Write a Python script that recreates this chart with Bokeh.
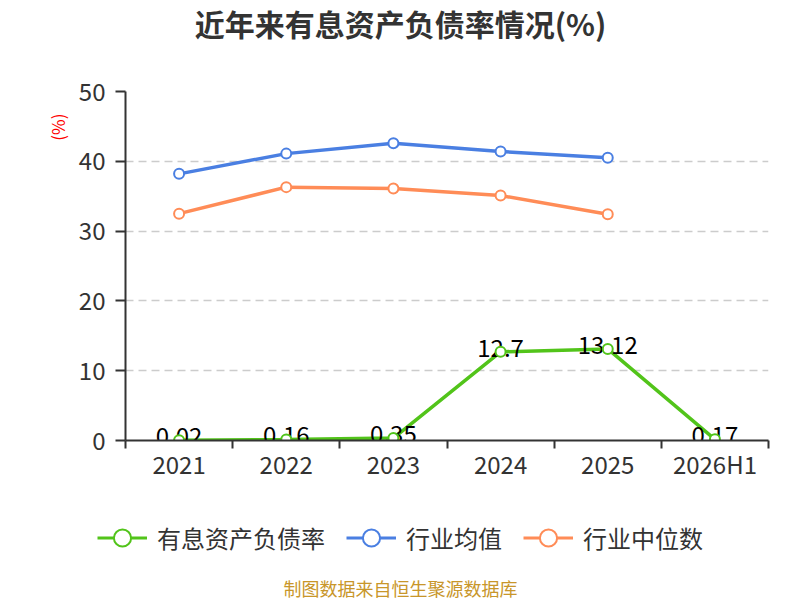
from bokeh.plotting import figure
from bokeh.models import FixedTicker, Legend, LegendItem, Title, Label, ColumnDataSource, Range1d
from bokeh.embed import file_html
from bokeh.resources import INLINE
from bokeh.core.properties import value

# ---- data ----
years = ["2021", "2022", "2023", "2024", "2025", "2026H1"]
debt_ratio = [0.02, 0.16, 0.35, 12.7, 13.12, 0.17]
industry_mean = [38.2, 41.1, 42.6, 41.4, 40.5]
industry_median = [32.5, 36.3, 36.1, 35.1, 32.4]
y_ticks = [0, 10, 20, 30, 40, 50]
series_names = ["有息资产负债率", "行业均值", "行业中位数"]
title_text = "近年来有息资产负债率情况(%)"
unit_text = "(%)"
footer_text = "制图数据来自恒生聚源数据库"

FONT = "Noto Sans CJK SC"
GREEN = "#52C41A"
BLUE = "#4A7FE2"
ORANGE = "#FF8C57"
TXT = "#333333"

xs = [i + 0.5 for i in range(len(years))]
series = [(series_names[0], debt_ratio, GREEN),
          (series_names[1], industry_mean, BLUE),
          (series_names[2], industry_median, ORANGE)]


def strip(h):
    f = figure(width=800, height=h, output_backend="svg", toolbar_location=None,
               x_range=(0, 800), y_range=(0, h), x_axis_type=None, y_axis_type=None,
               min_border=0)
    f.outline_line_color = None
    f.xgrid.grid_line_color = None
    f.ygrid.grid_line_color = None
    f.border_fill_color = "white"
    f.background_fill_color = "white"
    return f


# ---- header with title ----
head = strip(70)
head.add_layout(Label(x=400, y=48, text=title_text, text_align="center",
                      text_baseline="middle", text_font=FONT, text_font_size="30px",
                      text_font_style="bold", text_color=TXT))

# ---- main chart ----
p = figure(frame_width=643, frame_height=349, output_backend="svg", toolbar_location=None,
           x_range=(0, len(years)), y_range=(y_ticks[0], y_ticks[-1]),
           min_border_left=125, min_border_right=32, min_border_top=21,
           min_border_bottom=50)
p.title.visible = False
p.outline_line_color = None
p.background_fill_color = "white"
p.border_fill_color = "white"

p.xaxis.ticker = FixedTicker(ticks=xs, minor_ticks=list(range(len(years) + 1)))
p.xaxis.major_label_overrides = {x: y for x, y in zip(xs, years)}
p.xaxis.major_tick_out = 0
p.xaxis.major_tick_in = 0
p.xaxis.minor_tick_out = 8
p.xaxis.minor_tick_in = 0
p.xaxis.minor_tick_line_color = TXT
p.xaxis.minor_tick_line_width = 2
p.xaxis.axis_line_color = TXT
p.xaxis.axis_line_width = 2
p.xaxis.major_label_text_font = FONT
p.xaxis.major_label_text_font_size = "24px"
p.xaxis.major_label_text_color = TXT
p.xaxis.major_label_standoff = -3

p.yaxis.ticker = FixedTicker(ticks=y_ticks)
p.yaxis.minor_tick_line_color = None
p.yaxis.major_tick_out = 10
p.yaxis.major_tick_in = 0
p.yaxis.major_tick_line_color = TXT
p.yaxis.major_tick_line_width = 2
p.yaxis.axis_line_color = TXT
p.yaxis.axis_line_width = 2
p.yaxis.major_label_text_font = FONT
p.yaxis.major_label_text_font_size = "24px"
p.yaxis.major_label_text_color = TXT
p.yaxis.major_label_standoff = 10

p.xgrid.grid_line_color = None
p.ygrid.grid_line_color = "#cccccc"
p.ygrid.grid_line_width = 1.5
p.ygrid.grid_line_dash = "8 5"

# lines first, then value labels, then markers on top
for name, vals, col in reversed(series):
    p.line(xs[:len(vals)], vals, line_color=col, line_width=3.5)

src = ColumnDataSource(dict(x=xs, y=debt_ratio, t=[str(v) for v in debt_ratio]))
p.text(x="x", y="y", text="t", source=src, text_align="center",
       text_baseline="middle", y_offset=-4, text_color="black",
       text_font=value(FONT), text_font_size="24px")

for name, vals, col in reversed(series):
    p.scatter(xs[:len(vals)], vals, size=10, marker="circle",
              fill_color="white", line_color=col, line_width=2)

p.add_layout(Title(text=unit_text, align="right", offset=22, standoff=11,
                   text_font=FONT, text_font_size="17px", text_font_style="normal",
                   text_color="red"), "left")

# ---- legend + source strip ----
q = strip(110)
q.extra_y_ranges = {"off": Range1d(1000, 1100)}
items = []
for name, vals, col in series:
    lr = q.line(xs[:len(vals)], vals, line_color=col, line_width=3, y_range_name="off")
    sr = q.scatter(xs[:len(vals)], vals, marker="circle", size=10, fill_color="white",
                   line_color=col, line_width=2, y_range_name="off")
    items.append(LegendItem(label=name, renderers=[lr, sr]))

legend = Legend(items=items, location=(97, 41), orientation="horizontal",
                glyph_width=50, glyph_height=43, label_height=43,
                label_standoff=10, spacing=21, padding=0, margin=0,
                border_line_color=None, background_fill_alpha=0,
                label_text_font=FONT, label_text_font_size="24px",
                label_text_color=TXT)
q.add_layout(legend)

q.add_layout(Label(x=400, y=13, text=footer_text, text_align="center",
                   text_baseline="middle", text_font=FONT, text_font_size="18px",
                   text_color="#C8962A"))

open("out.html", "w").write(file_html([head, p, q], INLINE))
